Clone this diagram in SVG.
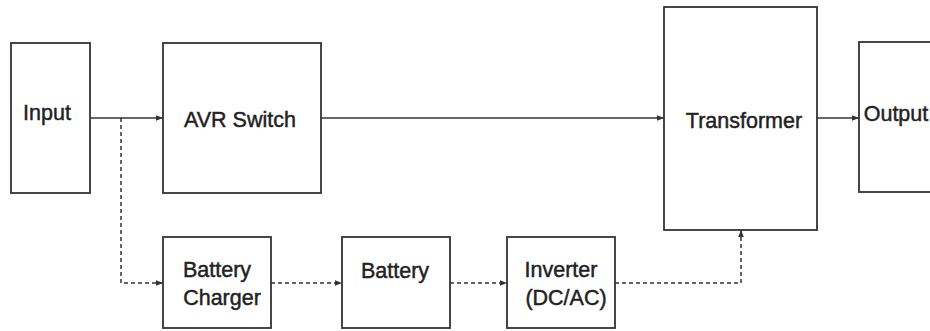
<svg xmlns="http://www.w3.org/2000/svg" width="930" height="331" viewBox="0 0 930 331">
<style>
.box{fill:#fff;stroke:#333;stroke-width:1.8}
.t{font-family:"Liberation Sans",Arial,sans-serif;font-size:21.5px;fill:#222;stroke:#222;stroke-width:0.45;text-anchor:middle}
.l{fill:none;stroke:#333;stroke-width:1.5}
.d{stroke-dasharray:4 3}
</style>
<defs>
<marker id="ah" viewBox="0 0 10 10" refX="10" refY="5" markerWidth="7" markerHeight="7" markerUnits="userSpaceOnUse" orient="auto">
<path d="M0,1 L10,5 L0,9 Z" fill="#333"/>
</marker>
</defs>
<rect width="930" height="331" fill="#fff"/>
<g id="connectors">
<path class="l" d="M90,118 H163" marker-end="url(#ah)"/>
<path class="l" d="M321,118 H664" marker-end="url(#ah)"/>
<path class="l" d="M817,118 H859" marker-end="url(#ah)"/>
<path class="l d" d="M121,118 V283 H163" marker-end="url(#ah)"/>
<path class="l d" d="M271,283 H342" marker-end="url(#ah)"/>
<path class="l d" d="M450,283 H507" marker-end="url(#ah)"/>
<path class="l d" d="M615,283 H741 V230" marker-end="url(#ah)"/>
</g>
<g id="input">
<rect class="box" x="11" y="43" width="79" height="150"/>
<text class="t" x="47" y="120">Input</text>
</g>
<g id="avr">
<rect class="box" x="163" y="43" width="158" height="150"/>
<text class="t" x="240" y="127">AVR Switch</text>
</g>
<g id="transformer">
<rect class="box" x="664" y="7" width="153" height="223"/>
<text class="t" x="744" y="128">Transformer</text>
</g>
<g id="output">
<rect class="box" x="859" y="42" width="80" height="150"/>
<text class="t" x="896" y="121">Output</text>
</g>
<g id="charger">
<rect class="box" x="163" y="237" width="108" height="91"/>
<text class="t" x="217" y="277">Battery</text>
<text class="t" x="222" y="305">Charger</text>
</g>
<g id="battery">
<rect class="box" x="342" y="237" width="108" height="91"/>
<text class="t" x="395" y="278">Battery</text>
</g>
<g id="inverter">
<rect class="box" x="507" y="237" width="108" height="91"/>
<text class="t" x="561" y="277">Inverter</text>
<text class="t" x="566" y="305">(DC/AC)</text>
</g>
</svg>
